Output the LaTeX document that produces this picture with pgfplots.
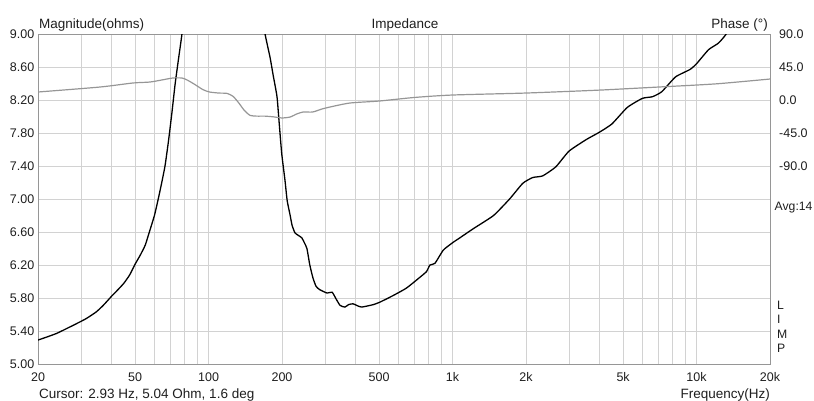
\documentclass[border=0pt]{standalone}
\usepackage{fontspec}
\setmainfont{Liberation Sans}
\usepackage{pgfplots}
\pgfplotsset{compat=1.18}
\definecolor{gridc}{RGB}{210,210,210}
\definecolor{framec}{RGB}{150,150,150}
\definecolor{phasec}{RGB}{150,150,150}
\definecolor{txt}{RGB}{30,30,30}
\begin{document}
\begin{tikzpicture}[font=\fontsize{12.5bp}{15bp}\selectfont, text=txt]
\path[use as bounding box] (-38bp,-37bp) rectangle (776bp,364bp);
\begin{axis}[
  name=main, at={(0,0)}, anchor=south west, scale only axis,
  width=732bp, height=330bp,
  xmode=log, xmin=20, xmax=20000, ymin=5, ymax=9,
  xtick={20,50,100,200,500,1000,2000,5000,10000,20000},
  xticklabels={20,50,100,200,500,1k,2k,5k,10k,20k},
  minor xtick={30,40,60,70,80,90,300,400,600,700,800,900,3000,4000,6000,7000,8000,9000},
  ytick={5,5.4,5.8,6.2,6.6,7,7.4,7.8,8.2,8.6,9},
  yticklabels={5.00,5.40,5.80,6.20,6.60,7.00,7.40,7.80,8.20,8.60,9.00},
  major tick length=0pt, minor tick length=0pt,
  grid=both, major grid style={gridc, line width=0.9bp}, minor grid style={gridc, line width=0.9bp},
  axis line style={framec, line width=1bp},
  xticklabel style={anchor=base, inner sep=0pt, yshift=-17bp},
  yticklabel style={anchor=east, inner sep=0pt, xshift=-3.5bp},
  clip=true,
]
\addplot[black, line width=1.3bp, smooth, tension=0.3] coordinates {
(20,5.29) (23.8,5.37) (28.8,5.49) (31.5,5.55) (34.6,5.63) (37,5.71) (40,5.82)
(42.5,5.90) (45,5.98) (47.5,6.08) (50,6.21) (52.5,6.32) (55,6.44) (57.2,6.60)
(60,6.80) (62.2,7.00) (64.3,7.20) (66.3,7.40) (68.5,7.70) (70.8,8.05) (73,8.40)
(75.5,8.72) (77.8,9.0) (80,9.4)
};
\addplot[black, line width=1.3bp, smooth, tension=0.3] coordinates {
(165,9.4) (170,9.02) (178.6,8.72) (184,8.5) (190.8,8.24) (195,7.9) (199.5,7.55)
(205.8,7.22) (210,6.98) (215.7,6.81) (220,6.68) (226,6.59) (233,6.56) (241,6.53)
(247,6.47) (253,6.40) (260,6.20) (268,6.04) (276,5.94) (286,5.90) (306,5.86)
(321,5.87) (333,5.79) (346,5.71) (362,5.69) (375,5.72) (391,5.73) (405,5.71)
(424,5.69) (474,5.72) (504,5.75) (571,5.83)
(647,5.92) (734,6.05) (782,6.12) (808,6.20) (847,6.22) (916,6.38) (1000,6.47)
(1072,6.53) (1216,6.64) (1472,6.80) (1713,7.00) (1940,7.19) (2130,7.26)
(2340,7.28) (2650,7.39) (3000,7.58) (3530,7.72) (4000,7.81) (4500,7.91)
(5200,8.11) (6000,8.22) (6600,8.24) (7200,8.30) (8200,8.48) (9400,8.57)
(10000,8.64) (11200,8.81) (12300,8.89) (13300,9.01) (15000,9.3)
};
\end{axis}
\begin{axis}[
  at={(0,0)}, anchor=south west, scale only axis,
  width=732bp, height=330bp,
  xmode=log, xmin=20, xmax=20000, ymin=-360, ymax=90,
  axis x line=none, axis y line*=right,
  ytick={-90,-45,0,45,90},
  yticklabels={-90.0,-45.0,0.0,45.0,90.0},
  major tick length=0pt,
  axis line style={framec, line width=1bp},
  yticklabel style={anchor=west, inner sep=0pt, xshift=9bp},
]
\addplot[phasec, line width=1.2bp, smooth, tension=0.4] coordinates {
(20,10.9) (35.9,17.7) (49,23.2) (57.5,24.5) (66,28) (71.3,30) (77.8,30) (82,27)
(88,21) (95,14) (101,10.9) (110,9.5) (119,9) (126,5) (133,-4) (140,-14) (148,-21)
(158,-22) (170,-22) (185,-23) (200,-24.5)
(216,-23.2) (230,-19) (244,-16.4) (267,-16.4) (290,-12.5) (315,-9.5) (380,-4.1) (500,-1.4)
(700,3.5) (1000,6.8) (2000,9.5) (4000,13.5) (7000,17.7) (12000,22) (20000,28.6)
};
\end{axis}
\begin{scope}[every node/.style={inner sep=0pt}, font=\fontsize{13.5bp}{16bp}\selectfont]
\node[anchor=base west] at (1bp,335bp) {Magnitude(ohms)};
\node[anchor=base] at (367bp,335bp) {Impedance};
\node[anchor=base east] at (730bp,335bp) {Phase (°)};
\node[anchor=base west] at (1bp,-34bp) {Cursor: 2.93 Hz, 5.04 Ohm, 1.6 deg};
\node[anchor=base east] at (732bp,-34bp) {Frequency(Hz)};
\end{scope}
\begin{scope}[every node/.style={inner sep=0pt}, font=\fontsize{12.2bp}{15bp}\selectfont]
\node[anchor=west] at (736.5bp,156bp) {Avg:14};
\node[anchor=west] at (739bp,59bp) {L};
\node[anchor=west] at (739bp,44.5bp) {I};
\node[anchor=west] at (739bp,30bp) {M};
\node[anchor=west] at (739bp,15.5bp) {P};
\end{scope}
\end{tikzpicture}
\end{document}
